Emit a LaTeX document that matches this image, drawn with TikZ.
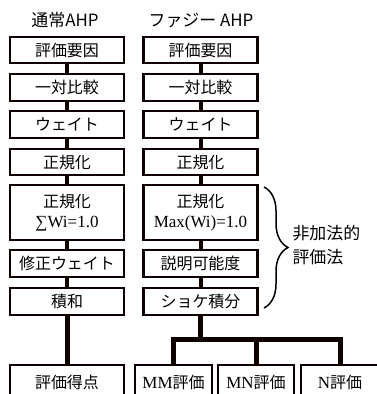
\documentclass[tikz,border=0pt]{standalone}
\usepackage{fontspec}
\setmainfont{Liberation Serif}
\newfontfamily\jp{Noto Sans CJK JP}[Scale=0.94]
\usetikzlibrary{decorations.pathreplacing}
\tikzset{
  box/.style={draw=black!90!red!60!black, line width=2.2pt, fill=white, minimum width=114pt, minimum height=#1, inner sep=0pt, align=center, font=\fontsize{17}{20}\selectfont},
  box/.default=26pt,
  conn/.style={line width=4pt, draw=black!90!red!60!black},
  tconn/.style={line width=5pt, draw=black!90!red!60!black},
  ttl/.style={font=\jp\fontsize{18}{20}\selectfont},
}
\begin{document}
\begin{tikzpicture}[x=1pt,y=-1pt]
\useasboundingbox (0,0) rectangle (377,394);
% titles
\node[ttl] (t1) at (65,20) {通常AHP};
\node[ttl] (t2) at (201,20) {ファジー AHP};
% left column
\node[box] (a1) at (67,50) {\jp 評価要因};
\node[box=27pt] (a2) at (67,87.5) {\jp 一対比較};
\node[box=27pt] (a3) at (67,124.5) {\jp ウェイト};
\node[box] (a4) at (67,162) {\jp 正規化};
\node[box=55pt] (a5) at (67,212.5) {{\jp 正規化}\\∑Wi=1.0};
\node[box=27pt] (a6) at (67,263.5) {\jp 修正ウェイト};
\node[box=27pt] (a7) at (67,301.5) {\jp 積和};
\node[box=34pt] (a8) at (67,382) {\jp 評価得点};
% right column
\node[box] (b1) at (200.5,50) {\jp 評価要因};
\node[box=27pt] (b2) at (200.5,87.5) {\jp 一対比較};
\node[box=27pt] (b3) at (200.5,124.5) {\jp ウェイト};
\node[box] (b4) at (200.5,162) {\jp 正規化};
\node[box=55pt] (b5) at (200.5,212.5) {{\jp 正規化}\\Max(Wi)=1.0};
\node[box=27pt] (b6) at (200.5,263.5) {\jp 説明可能度};
\node[box=27pt] (b7) at (200.5,301.5) {\jp ショケ積分};
% bottom boxes
\node[box=34pt, minimum width=77pt] (m1) at (173.5,382) {MM{\jp 評価}};
\node[box=34pt, minimum width=76pt] (m2) at (256,382) {MN{\jp 評価}};
\node[box=34pt, minimum width=78pt] (m3) at (340,382) {N{\jp 評価}};
% connectors
\foreach \c in {a,b}{
  \draw[conn] (\c1.south) -- (\c2.north);
  \draw[conn] (\c2.south) -- (\c3.north);
  \draw[conn] (\c3.south) -- (\c4.north);
  \draw[conn] (\c4.south) -- (\c5.north);
  \draw[conn] (\c5.south) -- (\c6.north);
  \draw[conn] (\c6.south) -- (\c7.north);
}
\draw[tconn] (a7.south) -- (a8.north);
\coordinate (j) at (200.5,339);
\draw[tconn] (b7.south) -- (j);
\draw[tconn, line join=miter] (m1.north) -- (m1.north |- j) -- (m3.north |- j) -- (m3.north);
\draw[tconn] (m2.north) -- (m2.north |- j);
% brace
\coordinate (br1) at (264,187);
\coordinate (br2) at (264,308);
\draw[line width=1.5pt, decorate, decoration={brace, amplitude=24pt}] (br1) -- (br2);
\node[anchor=west, align=left, font=\jp\fontsize{18}{24}\selectfont] (lbl) at (289,245) {非加法的\\評価法};
\end{tikzpicture}
\end{document}
